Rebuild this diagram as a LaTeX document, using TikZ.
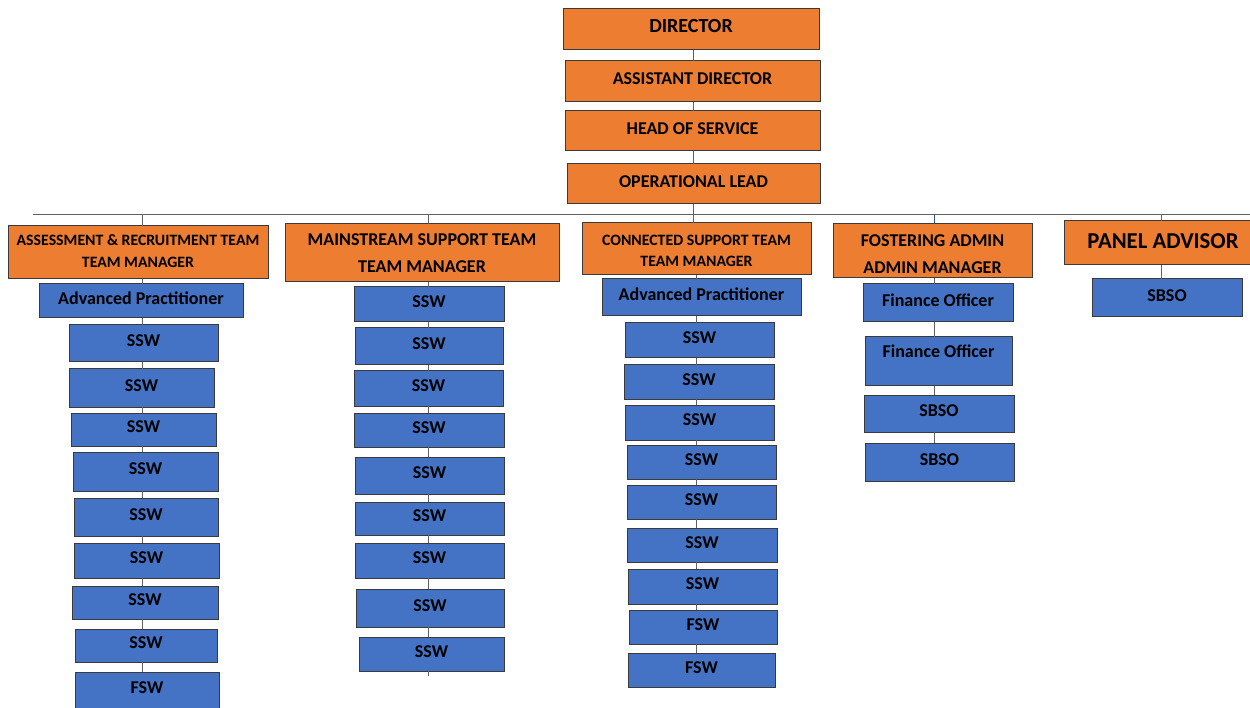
\documentclass[tikz,border=0pt]{standalone}
\usepackage{fontspec}
\setmainfont{Carlito}
\definecolor{orgc}{HTML}{ED7D31}
\definecolor{bluec}{HTML}{4472C4}
\definecolor{linec}{HTML}{3A3A3A}
\newcommand\bx[7]{\node[#1, minimum width={#5-#3}, minimum height={#6-#4}] (#2) at ({(#3+#5)/2},{(#4+#6)/2}) {#7};}
\newcommand\hl[2]{\raisebox{#1}[0.644em][0pt]{#2}}
\tikzset{
  basebox/.style={draw=linec, line width=1pt, inner sep=0pt, outer sep=0pt, align=center, text=black},
  obox/.style={basebox, fill=orgc, text height=0.66em, text depth=0pt, font=\bfseries\fontsize{18}{21}\selectfont},
  hbox/.style={basebox, fill=orgc, font=\bfseries\fontsize{15.8}{22}\selectfont},
  bbox/.style={basebox, fill=bluec, text height=0.66em, text depth=0pt, font=\bfseries\fontsize{18}{21}\selectfont},
  conn/.style={draw=linec!80, line width=0.9pt},
}
\begin{document}
\begin{tikzpicture}[x=1pt,y=-1pt]
\useasboundingbox (0,0) rectangle (1250,708);
% top spine
\bx{obox, font=\bfseries\fontsize{20}{24}\selectfont}{dir}{563}{9}{819}{50}{DIRECTOR}
\bx{obox}{ad}{565}{61}{820}{102}{ASSISTANT DIRECTOR}
\bx{obox}{hos}{565}{111}{820}{151}{HEAD OF SERVICE}
\bx{obox}{ol}{567}{164}{820}{204}{OPERATIONAL LEAD}
\coordinate (busL) at (33,214);
\coordinate (busR) at (1250,214);
\coordinate (spx) at (693,0);
% managers
\bx{hbox, font=\bfseries\fontsize{15.8}{22}\selectfont}{m1}{8}{226}{268}{279}{\hl{0.7pt}{ASSESSMENT \& RECRUITMENT TEAM}\\\hl{0.7pt}{TEAM MANAGER}}
\bx{hbox, font=\bfseries\fontsize{18}{27}\selectfont}{m2}{285}{224}{559}{282}{\hl{-0.5pt}{MAINSTREAM SUPPORT TEAM}\\\hl{-0.5pt}{TEAM MANAGER}}
\bx{hbox, font=\bfseries\fontsize{15.8}{21}\selectfont}{m3}{582}{223}{811}{275}{\hl{-2.4pt}{CONNECTED SUPPORT TEAM}\\\hl{-2.4pt}{TEAM MANAGER}}
\bx{hbox, font=\bfseries\fontsize{18}{27}\selectfont}{m4}{833}{224}{1032}{278}{\hl{-3.4pt}{FOSTERING ADMIN}\\\hl{-3.4pt}{ADMIN MANAGER}}
\bx{obox, font=\bfseries\fontsize{22.7}{26}\selectfont}{m5}{1064}{221}{1262}{265}{\raisebox{-2pt}{PANEL ADVISOR}}
\coordinate (x1) at (142,0);
\coordinate (x2) at (428,0);
\coordinate (x3) at (696,0);
\coordinate (x4) at (934,0);
\coordinate (x5) at (1161,0);
% column 1
\bx{bbox}{a0}{39}{284}{243}{318}{Advanced Practitioner}
\bx{bbox}{a1}{69}{325}{218}{362}{SSW}
\bx{bbox}{a2}{69}{369}{214}{407}{SSW}
\bx{bbox}{a3}{71}{413}{216}{446}{SSW}
\bx{bbox}{a4}{73}{452}{218}{491}{SSW}
\bx{bbox}{a5}{74}{498}{218}{536}{SSW}
\bx{bbox}{a6}{74}{543}{219}{578}{SSW}
\bx{bbox}{a7}{72}{586}{218}{619}{SSW}
\bx{bbox}{a8}{75}{629}{217}{662}{SSW}
\bx{bbox}{a9}{75}{672}{219}{709}{FSW}
% column 2
\bx{bbox}{b1}{354}{287}{504}{322}{SSW}
\bx{bbox}{b2}{355}{328}{503}{365}{SSW}
\bx{bbox}{b3}{354}{371}{503}{406}{SSW}
\bx{bbox}{b4}{354}{413}{504}{447}{SSW}
\bx{bbox}{b5}{355}{457}{504}{494}{SSW}
\bx{bbox}{b6}{355}{502}{504}{535}{SSW}
\bx{bbox}{b7}{355}{543}{504}{578}{SSW}
\bx{bbox}{b8}{356}{589}{504}{627}{SSW}
\bx{bbox}{b9}{359}{637}{504}{671}{SSW}
\coordinate (b10) at (428,676);
% column 3
\bx{bbox}{c0}{602}{279}{801}{316}{Advanced Practitioner}
\bx{bbox}{c1}{625}{323}{774}{358}{SSW}
\bx{bbox}{c2}{624}{365}{774}{399}{SSW}
\bx{bbox}{c3}{625}{405}{774}{440}{SSW}
\bx{bbox}{c4}{627}{445}{776}{479}{SSW}
\bx{bbox}{c5}{627}{485}{776}{519}{SSW}
\bx{bbox}{c6}{627}{528}{777}{562}{SSW}
\bx{bbox}{c7}{628}{569}{777}{604}{SSW}
\bx{bbox}{c8}{629}{610}{777}{644}{FSW}
\bx{bbox}{c9}{628}{653}{775}{687}{FSW}
% column 4
\bx{bbox}{d1}{863}{284}{1013}{322}{Finance Officer}
\bx{bbox}{d2}{865}{337}{1012}{386}{\raisebox{7pt}{Finance Officer}}
\bx{bbox}{d3}{864}{395}{1014}{432}{SBSO}
\bx{bbox}{d4}{865}{443}{1014}{481}{SBSO}
% column 5
\bx{bbox}{e1}{1092}{279}{1242}{317}{SBSO}
% connectors
\draw[conn] (dir.south -| spx) -- (ad.north -| spx);
\draw[conn] (ad.south -| spx) -- (hos.north -| spx);
\draw[conn] (hos.south -| spx) -- (ol.north -| spx);
\draw[conn] (ol.south -| spx) -- (m3.north -| spx);
\draw[conn] (busL) -- (busR);
\draw[conn] (busL -| x1) -- (m1.north -| x1);
\draw[conn] (busL -| x2) -- (m2.north -| x2);
\draw[conn, draw=bluec!70!black] (busL -| x4) -- (m4.north -| x4);
\draw[conn] (busL -| x5) -- (m5.north -| x5);
\draw[conn] (m1.south -| x1) -- (a0.north -| x1);
\foreach \p/\q in {a0/a1,a1/a2,a2/a3,a3/a4,a4/a5,a5/a6,a6/a7,a7/a8,a8/a9}
  \draw[conn] (\p.south -| x1) -- (\q.north -| x1);
\draw[conn] (m2.south -| x2) -- (b1.north -| x2);
\foreach \p/\q in {b1/b2,b2/b3,b3/b4,b4/b5,b5/b6,b6/b7,b7/b8,b8/b9}
  \draw[conn] (\p.south -| x2) -- (\q.north -| x2);
\draw[conn] (b9.south -| x2) -- (b10);
\draw[conn] (m3.south -| x3) -- (c0.north -| x3);
\foreach \p/\q in {c0/c1,c1/c2,c2/c3,c3/c4,c4/c5,c5/c6,c6/c7,c7/c8,c8/c9}
  \draw[conn] (\p.south -| x3) -- (\q.north -| x3);
\draw[conn] (m4.south -| x4) -- (d1.north -| x4);
\foreach \p/\q in {d1/d2,d2/d3,d3/d4}
  \draw[conn] (\p.south -| x4) -- (\q.north -| x4);
\draw[conn] (m5.south -| x5) -- (e1.north -| x5);
\end{tikzpicture}
\end{document}
